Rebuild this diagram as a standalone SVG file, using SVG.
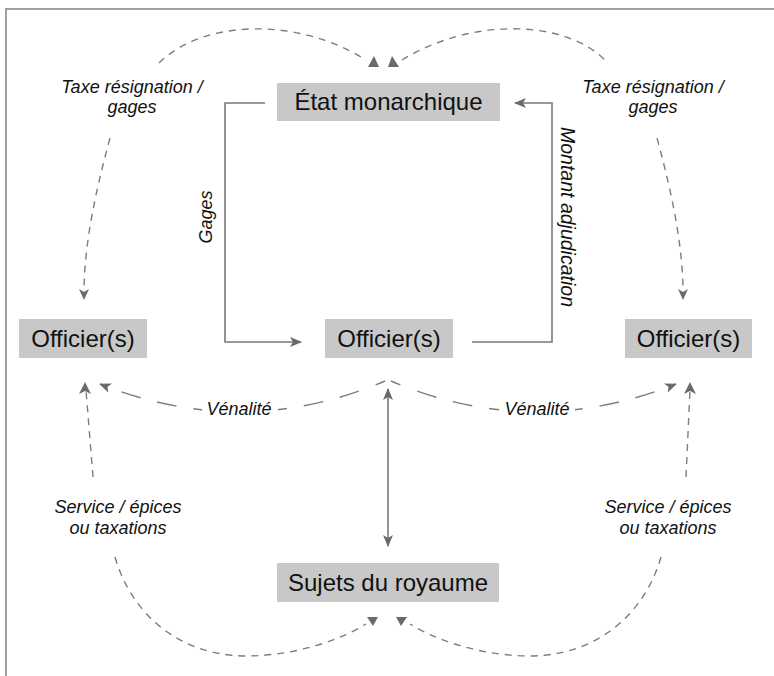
<svg xmlns="http://www.w3.org/2000/svg" width="774" height="676" viewBox="0 0 774 676">
<style>
.box{fill:#c8c8c8}
.node{font-family:"Liberation Sans",Arial,sans-serif;font-size:24px;fill:#111;text-anchor:middle}
.lbl{font-family:"Liberation Sans",Arial,sans-serif;font-size:18px;font-style:italic;fill:#111;text-anchor:middle}
.solid{fill:none;stroke:#7a7a7a;stroke-width:1.6}
.dash{fill:none;stroke:#7d7d7d;stroke-width:1.4;stroke-dasharray:7 6}
.ldash{fill:none;stroke:#7d7d7d;stroke-width:1.4;stroke-dasharray:10 18 20 17 20 17 20 17 20 17 20 17 20 17 20 17}
.head{fill:#6a6a6a}
</style>
<defs>
<marker id="arr" viewBox="0 0 12 10" refX="11" refY="5" markerWidth="12" markerHeight="10" markerUnits="userSpaceOnUse" orient="auto-start-reverse">
<path d="M0,0 L12,5 L0,10 L3,5 z" fill="#6a6a6a"/>
</marker>
</defs>
<rect x="0" y="0" width="774" height="676" fill="#fff"/>
<path d="M6,676 V9 H774" fill="none" stroke="#a0a0a0" stroke-width="2"/>

<g id="connectors">
<path class="solid" d="M265,103 H225 V342 H301" marker-end="url(#arr)"/>
<path class="solid" d="M472,342 H552 V103 H515" marker-end="url(#arr)"/>
<path class="solid" d="M388,389 V546" marker-start="url(#arr)" marker-end="url(#arr)"/>
<path class="dash" d="M159,63 C205,18 300,18 366,60"/>
<polygon class="head" points="374,56 379,67 368,67"/>
<path class="dash" d="M402,60 C470,18 565,18 607,62"/>
<polygon class="head" points="392,56 399,67 388,67"/>
<path class="dash" d="M110,138 C96,190 85,240 84,288"/>
<polygon class="head" points="84,300 79,289 84,292 89,289"/>
<path class="dash" d="M657,138 C671,190 682,240 683,288"/>
<polygon class="head" points="683,300 678,289 683,292 688,289"/>
<path class="ldash" d="M385,381 Q244,441 100,384" marker-end="url(#arr)"/>
<path class="ldash" d="M391,381 Q532,441 676,384" marker-end="url(#arr)"/>
<path class="dash" d="M93,477 L86,390"/>
<polygon class="head" points="85,382 91,394 85,391 79,394"/>
<path class="dash" d="M686,477 L690,390"/>
<polygon class="head" points="690,382 696,394 690,391 684,394"/>
<path class="dash" d="M115,557 C130,610 175,655 245,656 C290,656 335,643 366,624"/>
<polygon class="head" points="367,617 378,617 373,626"/>
<path class="dash" d="M661,557 C646,610 601,655 531,656 C486,656 441,643 410,624"/>
<polygon class="head" points="396,617 407,617 401,626"/>
<rect x="202" y="398" width="76" height="24" fill="#fff"/>
<rect x="499" y="398" width="76" height="24" fill="#fff"/>
</g>

<g id="etat">
<rect class="box" x="277" y="83" width="223" height="38"/>
<text class="node" x="388.5" y="110">État monarchique</text>
</g>
<g id="officier-gauche">
<rect class="box" x="19" y="319" width="128" height="39"/>
<text class="node" x="83" y="347">Officier(s)</text>
</g>
<g id="officier-centre">
<rect class="box" x="325" y="319" width="128" height="39"/>
<text class="node" x="389" y="347">Officier(s)</text>
</g>
<g id="officier-droite">
<rect class="box" x="625" y="319" width="127" height="39"/>
<text class="node" x="688.5" y="347">Officier(s)</text>
</g>
<g id="sujets">
<rect class="box" x="277" y="563" width="222" height="39"/>
<text class="node" x="388" y="591">Sujets du royaume</text>
</g>

<g id="labels">
<text class="lbl" x="132" y="93">Taxe résignation /</text>
<text class="lbl" x="132" y="113">gages</text>
<text class="lbl" x="653" y="93">Taxe résignation /</text>
<text class="lbl" x="653" y="113">gages</text>
<text class="lbl" transform="translate(212,217) rotate(-90)">Gages</text>
<text class="lbl" style="font-size:19.5px" transform="translate(561,217) rotate(90)">Montant adjudication</text>
<text class="lbl" x="239" y="415">Vénalité</text>
<text class="lbl" x="537" y="415">Vénalité</text>
<text class="lbl" x="118" y="513">Service / épices</text>
<text class="lbl" x="118" y="534">ou taxations</text>
<text class="lbl" x="668" y="513">Service / épices</text>
<text class="lbl" x="668" y="534">ou taxations</text>
</g>
</svg>
